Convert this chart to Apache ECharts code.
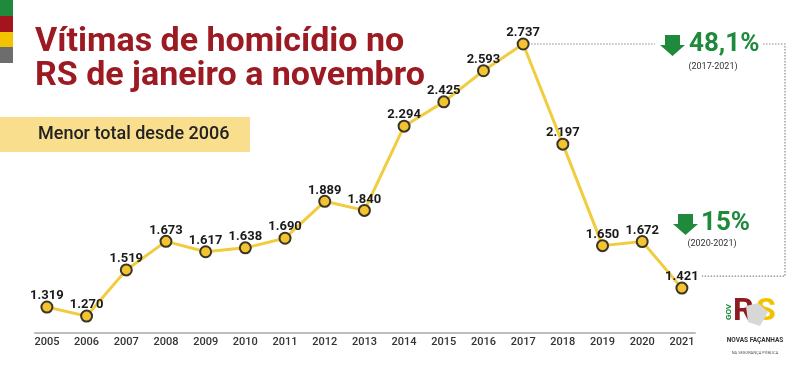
<!DOCTYPE html>
<html>
<head>
<meta charset="utf-8">
<script src="https://cdn.jsdelivr.net/npm/echarts@6/dist/echarts.min.js"></script>
<style>
html,body{margin:0;padding:0;background:#fff;}
#chart{width:800px;height:369px;}
</style>
</head>
<body>
<div id="chart"></div>
<script>
var years = [2005,2006,2007,2008,2009,2010,2011,2012,2013,2014,2015,2016,2017,2018,2019,2020,2021];
var victims = [1319,1270,1519,1673,1617,1638,1690,1889,1840,2294,2425,2593,2737,2197,1650,1672,1421];
var titleLines = ['Vítimas de homicídio no', 'RS de janeiro a novembro'];
var subtitle = 'Menor total desde 2006';
var dropLong = '48,1%', dropLongPeriod = '(2017-2021)';
var dropShort = '15%', dropShortPeriod = '(2020-2021)';

function fmt(v){ return String(v).replace(/\B(?=(\d{3})+(?!\d))/g, '.'); }

var chart = echarts.init(document.getElementById('chart'), null, {renderer:'canvas'});
var green = '#1f8a3c', red = '#9c1a22';

chart.setOption({
  backgroundColor:'#fff',
  animation:false,
  textStyle:{fontFamily:'Roboto'},
  grid:{left:35,right:105,top:44,bottom:36},
  xAxis:{
    type:'value', min:2004.7, max:2021.33,
    splitLine:{show:false},
    axisTick:{show:false},
    axisLine:{show:true,lineStyle:{color:'#bdbdbd',width:2}},
    axisLabel:{customValues:years, formatter:function(v){return String(v);}, color:'#333', fontSize:11, fontWeight:500, margin:4, fontFamily:'Roboto'}
  },
  yAxis:{type:'value', min:1179, max:2737, show:false, splitLine:{show:false}},
  series:[{
    type:'line',
    data: years.map(function(y,i){return [y, victims[i]];}),
    symbol:'circle', symbolSize:11,
    lineStyle:{color:'#f1cc3f', width:3},
    itemStyle:{color:'#f4c430', borderColor:'#3a3426', borderWidth:2},
    label:{show:true, position:'top', distance:-2, formatter:function(p){return fmt(p.value[1]);}, color:'#1a1a1a', fontSize:13, fontWeight:'bold', fontFamily:'Roboto'},
    z:3
  }]
});

var pPeak = chart.convertToPixel({seriesIndex:0}, [2017, 2737]);
var pLast = chart.convertToPixel({seriesIndex:0}, [2021, 1421]);
var vx = 785, bottomY = pLast[1] - 12;

function arrow(x, y){
  return {type:'polygon', shape:{points:[[x+5,y],[x+20,y],[x+20,y+10],[x+25,y+10],[x+12.5,y+21],[x,y+10],[x+5,y+10]]}, style:{fill:green}};
}

chart.setOption({
  graphic:[
    {type:'rect', shape:{x:0,y:0,width:13,height:16}, style:{fill:'#1f8a3c'}},
    {type:'rect', shape:{x:0,y:16,width:13,height:16}, style:{fill:'#a3141d'}},
    {type:'rect', shape:{x:0,y:32,width:13,height:15}, style:{fill:'#f4c300'}},
    {type:'rect', shape:{x:0,y:47,width:13,height:16}, style:{fill:'#6d6d6d'}},
    {type:'text', left:35, top:25, style:{text:titleLines[0], fill:red, font:'bold 34px Roboto'}},
    {type:'text', left:35, top:59, style:{text:titleLines[1], fill:red, font:'bold 34px Roboto'}},
    {type:'rect', shape:{x:0,y:117,width:250,height:35}, style:{fill:'#f9de8e'}},
    {type:'text', left:38, top:125, style:{text:subtitle, fill:'#222', font:'500 18px Roboto'}},
    {type:'polyline', shape:{points:[[pPeak[0]+8,pPeak[1]],[655,pPeak[1]]]}, style:{stroke:'#888',lineWidth:1.2,lineDash:[1.5,1.5],fill:null}},
    {type:'polyline', shape:{points:[[763,pPeak[1]],[vx,pPeak[1]],[vx,bottomY],[pLast[0]+20,bottomY]]}, style:{stroke:'#888',lineWidth:1.2,lineDash:[1.5,1.5],fill:null}},
    arrow(660, 35),
    {type:'text', left:689, top:31, style:{text:dropLong, fill:green, font:'bold 26px Roboto'}},
    {type:'text', x:713, y:67, style:{text:dropLongPeriod, fill:'#333', font:'9px Roboto', textAlign:'center', textVerticalAlign:'middle'}},
    arrow(673, 214),
    {type:'text', left:701, top:210, style:{text:dropShort, fill:green, font:'bold 26px Roboto'}},
    {type:'text', x:712, y:244, style:{text:dropShortPeriod, fill:'#333', font:'9px Roboto', textAlign:'center', textVerticalAlign:'middle'}},
    {type:'text', x:729, y:312, rotation:Math.PI/2, style:{text:'GOV', fill:green, font:'bold 8px Roboto', textAlign:'center', textVerticalAlign:'middle'}},
    {type:'text', left:733, top:296, style:{text:'R', fill:'#8e1b20', font:'bold 32px Roboto'}},
    {type:'text', left:756, top:296, style:{text:'S', fill:'#f2c200', font:'bold 32px Roboto'}},
    {type:'polygon', shape:{points:[[746,306],[758,303],[768,312],[760,326],[748,322]]}, style:{fill:'#d7d7d7'}},
    {type:'text', x:755, y:340, style:{text:'NOVAS FAÇANHAS', fill:'#333', font:'bold 6.5px Roboto', textAlign:'center', textVerticalAlign:'middle'}},
    {type:'text', x:755, y:353, style:{text:'NA SEGURANÇA PÚBLICA', fill:'#555', font:'4px Roboto', textAlign:'center', textVerticalAlign:'middle'}}
  ]
});
</script>
</body>
</html>
